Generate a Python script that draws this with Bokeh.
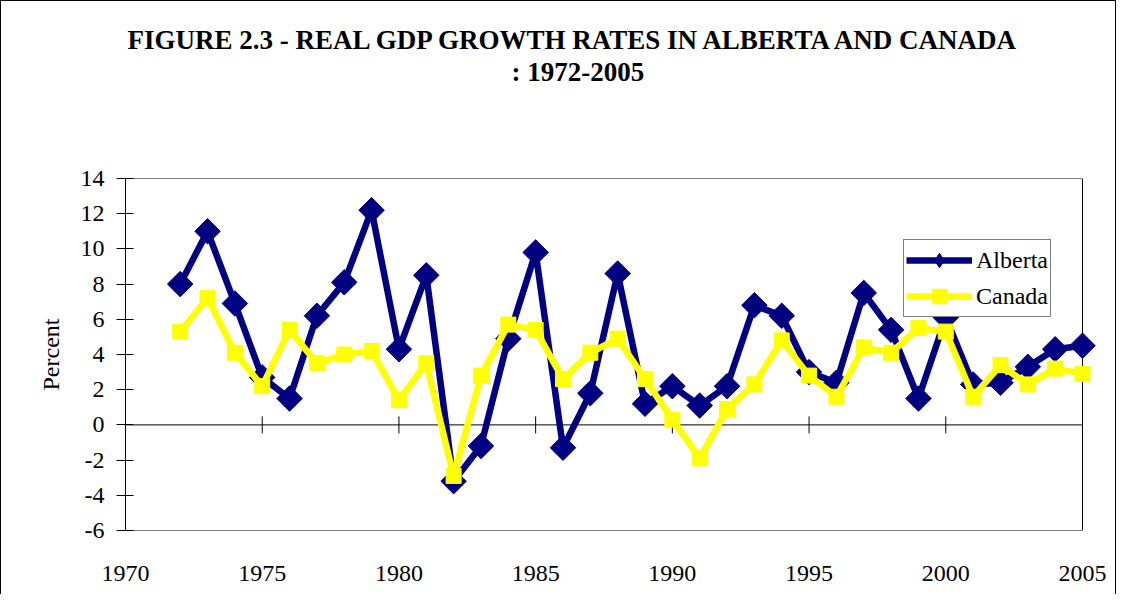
import math
from bokeh.plotting import figure
from bokeh.models import Range1d, FixedTicker, Legend, LegendItem, Title
from bokeh.embed import file_html
from bokeh.resources import INLINE

# ---- data ----
years = list(range(1972, 2006))
alberta = [8.0, 11.0, 6.9, 2.7, 1.5, 6.2, 8.1, 12.2, 4.3, 8.5,
           -3.2, -1.2, 4.9, 9.8, -1.3, 1.8, 8.6, 1.2, 2.2, 1.1,
           2.2, 6.8, 6.2, 3.0, 2.4, 7.5, 5.4, 1.5, 6.1, 2.3,
           2.4, 3.3, 4.3, 4.5]
canada = [5.3, 7.2, 4.1, 2.2, 5.4, 3.5, 4.0, 4.2, 1.4, 3.5,
          -2.9, 2.8, 5.7, 5.4, 2.6, 4.1, 4.9, 2.6, 0.3, -1.9,
          0.9, 2.3, 4.8, 2.8, 1.6, 4.4, 4.1, 5.5, 5.3, 1.6,
          3.4, 2.3, 3.2, 2.9]
x_ticks = [1970, 1975, 1980, 1985, 1990, 1995, 2000, 2005]
y_ticks = [-6, -4, -2, 0, 2, 4, 6, 8, 10, 12, 14]
title_line1 = "FIGURE 2.3 - REAL GDP GROWTH RATES IN ALBERTA AND CANADA"
title_line2 = ": 1972-2005"
y_label = "Percent"
X0, X1 = 1970, 2005
Y0, Y1 = -6, 14

# ---- layout ----
W, H = 1116, 594
FL, FT, FB = 124, 177, 529
FR_AXIS = 1081          # pixel where 2005 sits (plot-area right border)
px_per_year = (FR_AXIS - FL) / (X1 - X0)
FR = 1098               # frame extended a bit so end markers are not clipped
x_end = X0 + (FR - FL) / px_per_year

FONT = "Liberation Serif"
NAVY = "#000080"
YELLOW = "#FFFF00"
NAN = float("nan")

p = figure(width=W, height=H,
           x_range=Range1d(X0, x_end), y_range=Range1d(Y0, Y1),
           output_backend="svg", toolbar_location=None,
           min_border_left=FL, min_border_right=W - FR,
           min_border_top=FT, min_border_bottom=H - FB,
           background_fill_color="white", border_fill_color="white")
p.title = None
p.outline_line_color = None
p.xgrid.visible = False
p.ygrid.visible = False
p.styles = {"border-left": "1px solid black",
            "border-top": "1px solid black",
            "border-right": "1px solid black"}

# y axis
ya = p.yaxis[0]
ya.ticker = FixedTicker(ticks=y_ticks)
ya.major_label_overrides = {t: str(t) for t in y_ticks}
ya.major_tick_in = 8
ya.major_tick_out = 9
ya.minor_tick_line_color = None
ya.axis_line_color = "black"
ya.major_tick_line_color = "black"
ya.major_label_standoff = 12
ya.major_label_text_font = FONT
ya.major_label_text_font_size = "24px"
ya.major_label_text_color = "black"
ya.axis_label = y_label
ya.axis_label_text_font = FONT
ya.axis_label_text_font_size = "24px"
ya.axis_label_text_font_style = "normal"
ya.axis_label_text_color = "black"
ya.axis_label_standoff = 14

# x axis (labels only, at bottom)
xa = p.xaxis[0]
xa.ticker = FixedTicker(ticks=x_ticks)
xa.axis_line_color = None
xa.major_tick_line_color = None
xa.minor_tick_line_color = None
xa.major_tick_in = 0
xa.major_tick_out = 0
xa.major_label_standoff = 35
xa.major_label_text_font = FONT
xa.major_label_text_font_size = "24px"
xa.major_label_text_color = "black"

# plot-area border (top, right, bottom) and zero line with ticks
p.segment(x0=[X0, X1, X0, X0], y0=[Y1, Y0, Y0, 0],
          x1=[X1, X1, X1, X1], y1=[Y1, Y1, Y0, 0],
          line_color="black", line_width=1)
p.scatter(x=x_ticks, y=[0] * len(x_ticks), marker="dash", size=17,
          angle=math.pi / 2, line_color="black", line_width=1)

# series
la = p.line(years, alberta, line_color=NAVY, line_width=6.5)
sa = p.scatter(years, alberta, marker="square", size=18, angle=math.pi / 4,
               fill_color=NAVY, line_color=NAVY)
lc = p.line(years, canada, line_color=YELLOW, line_width=6.5)
sc = p.scatter(years, canada, marker="square", size=15,
               fill_color=YELLOW, line_color=YELLOW)
# legend-only diamond marker (legend does not rotate markers)
leg_a = p.scatter(x=[NAN], y=[NAN], marker="diamond", size=18,
                  fill_color=NAVY, line_color=NAVY)

legend = Legend(items=[LegendItem(label="Alberta", renderers=[la, leg_a]),
                       LegendItem(label="Canada", renderers=[lc, sc])],
                location=(778, 213))
legend.border_line_color = "black"
legend.border_line_width = 1
legend.background_fill_color = "white"
legend.background_fill_alpha = 1
legend.padding = 2
legend.spacing = 0
legend.margin = 0
legend.glyph_width = 66
legend.glyph_height = 36
legend.label_height = 36
legend.label_standoff = 4
legend.label_text_font = FONT
legend.label_text_font_size = "24px"
legend.label_text_color = "black"
p.add_layout(legend)

# titles: first added sits nearest the plot (a blank spacer, then line 2, then line 1)
TKW = dict(text_font=FONT, text_font_size="27px", text_font_style="bold",
           text_color="black")
p.add_layout(Title(text=" ", align="left", standoff=60, **TKW), "above")
p.add_layout(Title(text=title_line2, align="left", offset=386, standoff=0, **TKW), "above")
p.add_layout(Title(text=title_line1, align="left", offset=2, standoff=0, **TKW), "above")

open("out.html", "w").write(file_html(p, INLINE))
